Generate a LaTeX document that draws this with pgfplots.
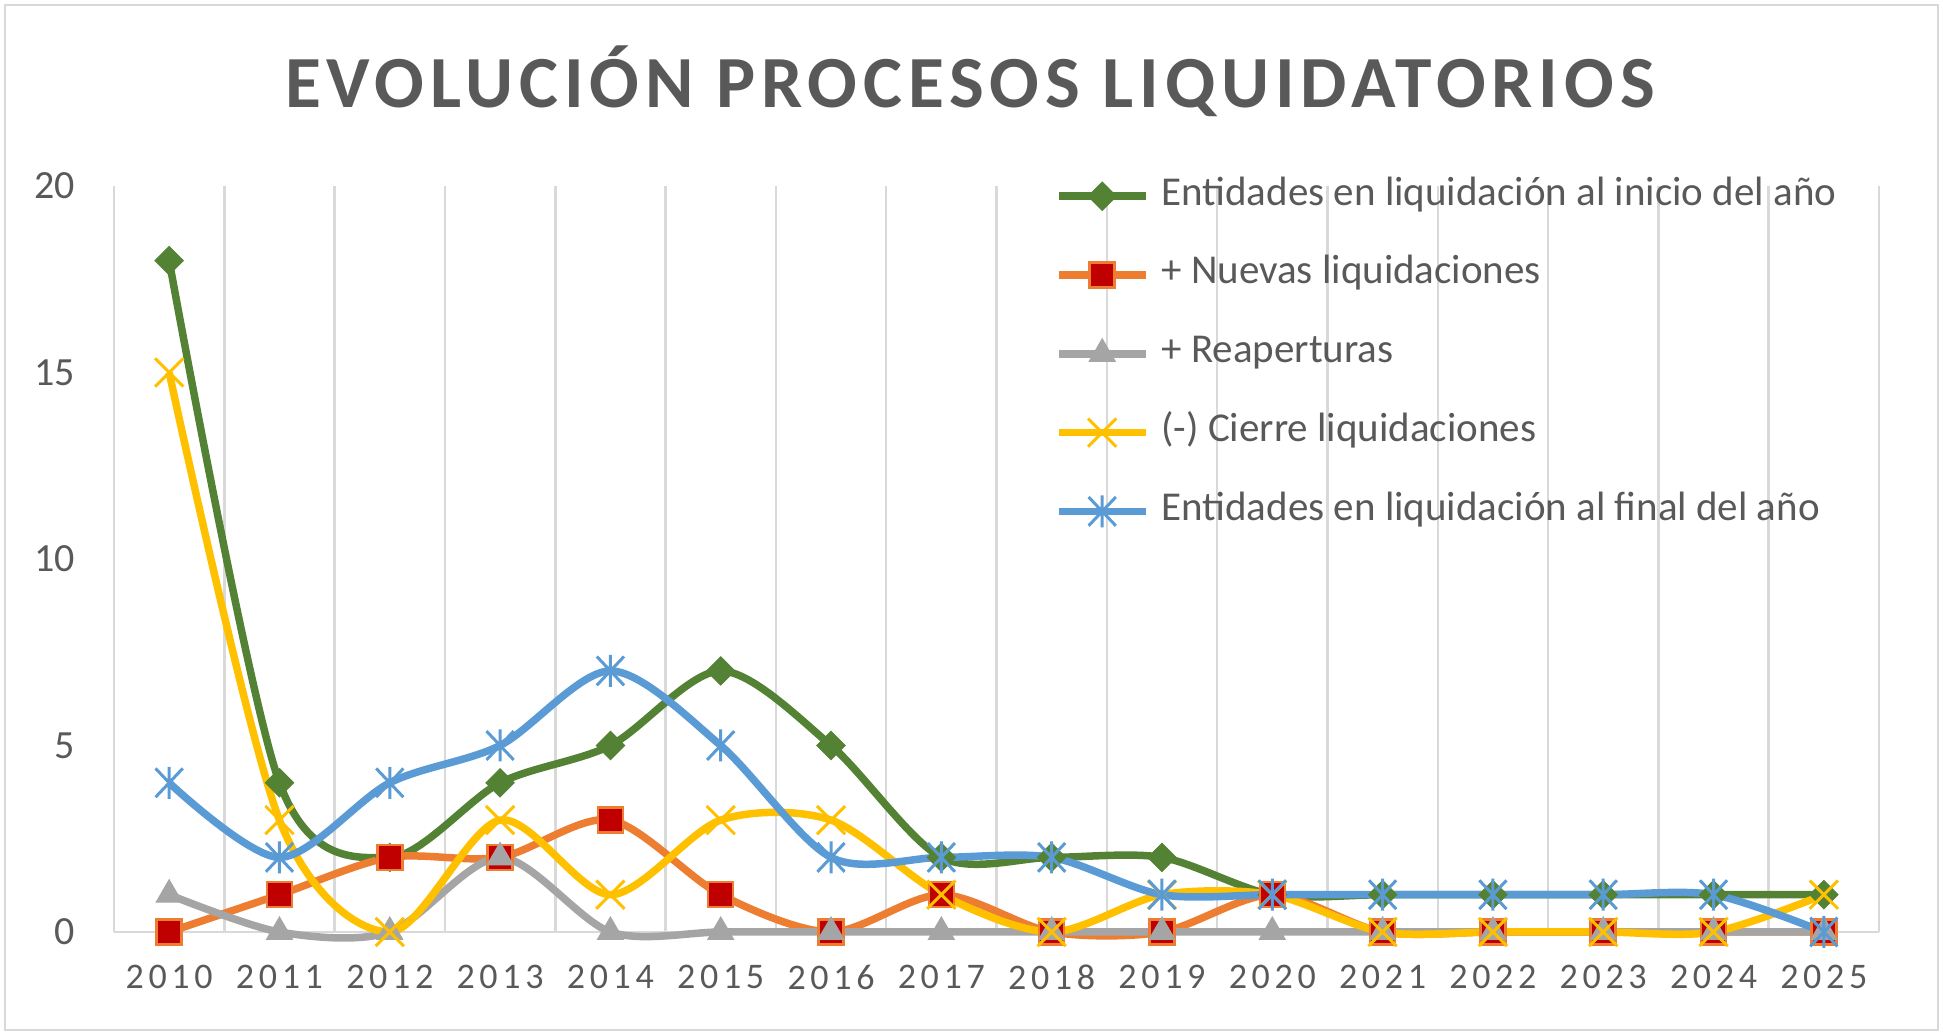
\documentclass[border=0pt]{standalone}
\usepackage{fontspec}
\setmainfont{Carlito}
\newfontfamily\titlefont[LetterSpace=8]{Carlito}
\newfontfamily\xlabfont[LetterSpace=13]{Carlito}
\usepackage{pgfplots}
\pgfplotsset{compat=1.18}
\definecolor{cgreen}{HTML}{548235}
\definecolor{corange}{HTML}{ED7D31}
\definecolor{cred}{HTML}{C00000}
\definecolor{cgray}{HTML}{A5A5A5}
\definecolor{cyellow}{HTML}{FFC000}
\definecolor{cblue}{HTML}{5B9BD5}
\definecolor{ctext}{HTML}{595959}
\definecolor{cgrid}{HTML}{D9D9D9}
\pgfdeclareplotmark{xstar}{%
  \pgfpathmoveto{\pgfqpoint{-.85\pgfplotmarksize}{-.9\pgfplotmarksize}}%
  \pgfpathlineto{\pgfqpoint{.85\pgfplotmarksize}{.9\pgfplotmarksize}}%
  \pgfpathmoveto{\pgfqpoint{-.85\pgfplotmarksize}{.9\pgfplotmarksize}}%
  \pgfpathlineto{\pgfqpoint{.85\pgfplotmarksize}{-.9\pgfplotmarksize}}%
  \pgfpathmoveto{\pgfqpoint{0pt}{-\pgfplotmarksize}}%
  \pgfpathlineto{\pgfqpoint{0pt}{\pgfplotmarksize}}%
  \pgfusepathqstroke}
\begin{document}
\begin{tikzpicture}
\path[use as bounding box] (0pt,0pt) rectangle (1943pt,1035pt);
\draw[cgrid, line width=2.5pt] (5pt,5pt) rectangle (1938pt,1030pt);
\node[anchor=base, text=ctext, font=\titlefont\bfseries\fontsize{73.5}{82}\selectfont] at (970pt,927pt) {EVOLUCIÓN PROCESOS LIQUIDATORIOS};
\begin{axis}[
  at={(114pt,103pt)}, anchor=south west,
  width=1765pt, height=746pt, scale only axis,
  xmin=-0.5, xmax=15.5, ymin=0, ymax=20,
  xtick={0,...,15},
  xticklabels={2010,2011,2012,2013,2014,2015,2016,2017,2018,2019,2020,2021,2022,2023,2024,2025},
  ytick={0,5,10,15,20},
  minor xtick={-0.5,0.5,...,15.5},
  xminorgrids,
  minor x grid style={cgrid, line width=2.5pt},
  major tick length=0pt, minor tick length=0pt,
  axis x line*=bottom, axis y line*=left,
  x axis line style={-, cgrid, line width=2.5pt},
  y axis line style={draw=none},
  clip=false,
  /pgf/number format/assume math mode=true,
  yticklabel style={font=\fontsize{40}{48}\selectfont, text=ctext, anchor=east, inner sep=0pt, xshift=-39pt},
  xticklabel style={font=\xlabfont\fontsize{36}{43}\selectfont, text=ctext, anchor=north, inner sep=0pt, yshift=-33pt},
  legend cell align=left,
  legend style={at={(0.5330,1.0134)}, anchor=north west, draw=none, fill=none, inner sep=0pt,
    row sep=38.8pt, font=\fontsize{41}{49}\selectfont, text=ctext,
    nodes={inner sep=0pt, text height=29pt, text depth=11pt, text=ctext},
    /tikz/every odd column/.append style={column sep=12pt}},
  legend image code/.code={\draw[mark repeat=2,mark phase=2] plot coordinates {(0pt,0pt) (43.5pt,0pt) (87pt,0pt)};},
]
\addplot[cgreen, line width=7.5pt, smooth, mark=square*, mark size=10pt,
  mark options={solid, rotate=45, line width=1pt, draw=cgreen, fill=cgreen}]
  coordinates {(0,18) (1,4) (2,2) (3,4) (4,5) (5,7) (6,5) (7,2) (8,2) (9,2) (10,1) (11,1) (12,1) (13,1) (14,1) (15,1)};
\addlegendentry{Entidades en liquidación al inicio del año}
\addplot[corange, line width=7.5pt, smooth, mark=square*, mark size=12.5pt,
  mark options={solid, line width=2.5pt, draw=corange, fill=cred}]
  coordinates {(0,0) (1,1) (2,2) (3,2) (4,3) (5,1) (6,0) (7,1) (8,0) (9,0) (10,1) (11,0) (12,0) (13,0) (14,0) (15,0)};
\addlegendentry{+ Nuevas liquidaciones}
\addplot[cgray, line width=7.5pt, smooth, mark=triangle*, mark size=15pt,
  mark options={solid, line width=1pt, draw=cgray, fill=cgray}]
  coordinates {(0,1) (1,0) (2,0) (3,2) (4,0) (5,0) (6,0) (7,0) (8,0) (9,0) (10,0) (11,0) (12,0) (13,0) (14,0) (15,0)};
\addlegendentry{+ Reaperturas}
\addplot[cyellow, line width=7.5pt, smooth, mark=x, mark size=20pt,
  mark options={solid, line width=3pt, draw=cyellow}]
  coordinates {(0,15) (1,3) (2,0) (3,3) (4,1) (5,3) (6,3) (7,1) (8,0) (9,1) (10,1) (11,0) (12,0) (13,0) (14,0) (15,1)};
\addlegendentry{(-) Cierre liquidaciones}
\addplot[cblue, line width=7.5pt, smooth, mark=xstar, mark size=16pt,
  mark options={solid, line width=3pt, draw=cblue}]
  coordinates {(0,4) (1,2) (2,4) (3,5) (4,7) (5,5) (6,2) (7,2) (8,2) (9,1) (10,1) (11,1) (12,1) (13,1) (14,1) (15,0)};
\addlegendentry{Entidades en liquidación al final del año}
\end{axis}
\end{tikzpicture}
\end{document}
